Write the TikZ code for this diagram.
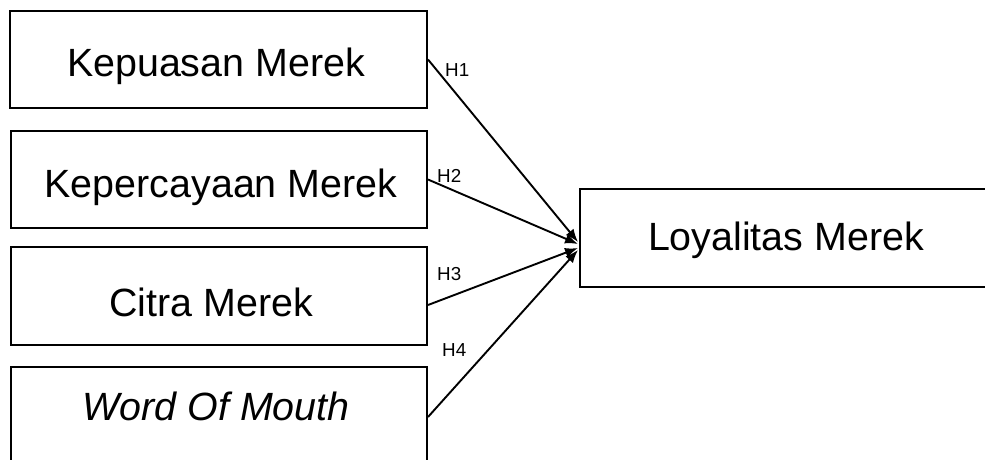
\documentclass[tikz,border=0pt]{standalone}
\usepackage{fontspec}
\setmainfont{Liberation Sans}
\usetikzlibrary{arrows.meta,calc}
\tikzset{
  varbox/.style={draw=black, line width=2pt, rectangle, inner sep=0pt},
  vartext/.style={anchor=base, inner sep=0pt, font=\fontsize{39.4}{45}\selectfont},
  hyp/.style={anchor=base west, inner sep=0pt, font=\fontsize{18.8}{22}\selectfont},
  path/.style={draw=black, line width=1.9pt, -{Latex[length=13pt,width=10pt]}}
}
\begin{document}
\begin{tikzpicture}[x=1pt, y=-1pt]
  \useasboundingbox (0,0) rectangle (985,460);
  \fill[white] (0,0) rectangle (985,460);

  % independent variables
  \node[varbox, minimum width=417pt, minimum height=97pt] (kp) at (218.5,59.5) {};
  \node[varbox, minimum width=416pt, minimum height=97pt] (kc) at (219,179.5) {};
  \node[varbox, minimum width=416pt, minimum height=98pt] (cm) at (219,296) {};
  \node[varbox, minimum width=416pt, minimum height=100pt] (wom) at (219,417) {};

  \node[vartext] (kpt) at (216,77) {Kepuasan Merek};
  \node[vartext] (kct) at (221,197) {Kepercayaan Merek};
  \node[vartext] (cmt) at (211,316) {Citra Merek};
  \node[vartext] (womt) at (216,420) {\itshape Word Of Mouth};

  % dependent variable
  \node[varbox, minimum width=410pt, minimum height=98pt] (lm) at (785,238) {};
  \node[vartext] (lmt) at (786,250) {Loyalitas Merek};

  % hypothesised paths
  \coordinate (t1) at ($(lm.west)+(-1,4)$);
  \coordinate (t2) at ($(lm.west)+(-1,6)$);
  \coordinate (t3) at ($(lm.west)+(-1,10)$);
  \coordinate (t4) at ($(lm.west)+(-1,12)$);
  \coordinate (s3) at ($(cm.east)+(0,9)$);

  \draw[path] (kp.east) -- (t1);
  \draw[path] (kc.east) -- (t2);
  \draw[path] (s3) -- (t3);
  \draw[path] (wom.east) -- (t4);

  \node[hyp] (h1) at (445,77) {H1};
  \node[hyp] (h2) at (437,182) {H2};
  \node[hyp] (h3) at (437,280) {H3};
  \node[hyp] (h4) at (442,356) {H4};
\end{tikzpicture}
\end{document}
